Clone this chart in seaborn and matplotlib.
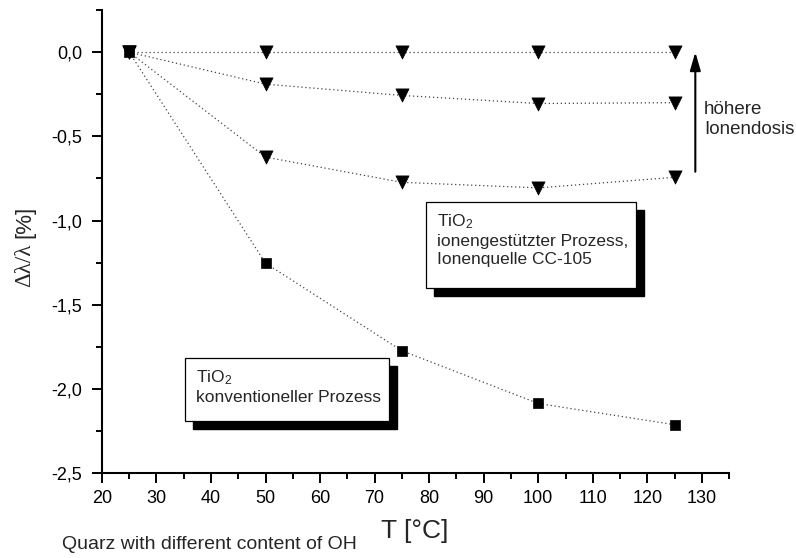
import matplotlib
matplotlib.use("Agg")
import matplotlib.pyplot as plt
import matplotlib.transforms as mtransforms
from matplotlib.patches import Rectangle
from matplotlib.ticker import MultipleLocator, FuncFormatter
import pandas as pd
import seaborn as sns

# Temperature steps [°C]
temperature = [25, 50, 75, 100, 125]

# Relative wavelength shift Δλ/λ [%]
ion_dose_high = [0.0, 0.0, 0.0, 0.0, 0.0]
ion_dose_mid = [0.0, -0.19, -0.257, -0.305, -0.30]
ion_dose_low = [0.0, -0.623, -0.773, -0.806, -0.743]
conventional = [0.0, -1.253, -1.773, -2.086, -2.212]

x_ticks = [20, 30, 40, 50, 60, 70, 80, 90, 100, 110, 120, 130]
y_ticks = [0.0, -0.5, -1.0, -1.5, -2.0, -2.5]

sns.set_theme(style="ticks")
plt.rcParams["font.family"] = ["Liberation Sans", "DejaVu Sans"]
plt.rcParams["mathtext.fontset"] = "custom"
plt.rcParams["mathtext.rm"] = "Liberation Sans"
plt.rcParams["mathtext.it"] = "Liberation Sans:italic"

frames = []
for name, vals in [("hoch", ion_dose_high), ("mittel", ion_dose_mid),
                   ("niedrig", ion_dose_low), ("konventionell", conventional)]:
    frames.append(pd.DataFrame({"T": temperature, "d": vals, "serie": name}))
df = pd.concat(frames, ignore_index=True)

fig = plt.figure(figsize=(7.96, 5.58), dpi=100)
ax = fig.add_axes([0.128, 0.152, 0.788, 0.830])

line_kw = dict(color="#444444", linestyle=(0, (1, 2.2)), linewidth=0.9)
for name in ["hoch", "mittel", "niedrig"]:
    sub = df[df["serie"] == name]
    sns.lineplot(data=sub, x="T", y="d", ax=ax, **line_kw, zorder=2)
    sns.scatterplot(data=sub, x="T", y="d", ax=ax, marker="v", s=90,
                    color="black", edgecolor="black", linewidth=0.5, zorder=3)
sub = df[df["serie"] == "konventionell"]
sns.lineplot(data=sub, x="T", y="d", ax=ax, **line_kw, zorder=2)
sns.scatterplot(data=sub, x="T", y="d", ax=ax, marker="s", s=60,
                color="black", edgecolor="black", linewidth=0.5, zorder=3)

ax.set_xlim(20, 135)
ax.set_ylim(-2.5, 0.25)
ax.set_xticks(x_ticks)
ax.set_yticks(y_ticks)
ax.xaxis.set_minor_locator(MultipleLocator(5))
ax.yaxis.set_minor_locator(MultipleLocator(0.25))
ax.yaxis.set_major_formatter(FuncFormatter(lambda v, p: f"{v:.1f}".replace(".", ",")))
ax.xaxis.set_major_formatter(FuncFormatter(lambda v, p: f"{v:.0f}"))
ax.tick_params(axis="both", which="major", direction="out", length=7, width=1.4,
               labelsize=13, color="black", labelcolor="black")
ax.tick_params(axis="x", which="major", pad=5)
ax.tick_params(axis="y", which="major", pad=7)
ax.tick_params(axis="both", which="minor", direction="out", length=4.3, width=1.4,
               color="black")
for side in ["top", "right"]:
    ax.spines[side].set_visible(False)
for side in ["left", "bottom"]:
    ax.spines[side].set_linewidth(1.5)
    ax.spines[side].set_color("black")
ax.set_xlabel("")
ax.set_ylabel("")

fig.text(0.521, 0.036, "T [°C]", fontsize=19, ha="center", va="baseline")
fig.text(0.031, 1 - 265 / 558, "Δλ/λ", fontsize=16.5, rotation=90, ha="center",
         va="center", family=["Liberation Serif", "DejaVu Serif"])
fig.text(0.031, 1 - 222 / 558, "[%]", fontsize=16, rotation=90, ha="center",
         va="center")
fig.text(0.078, 0.016, "Quarz with different content of OH", fontsize=14,
         ha="left", va="baseline")

# Arrow: increasing ion dose
ax.annotate("", xy=(128.8, 0.0), xytext=(128.8, -0.71),
            arrowprops=dict(arrowstyle="-|>,head_length=0.55,head_width=0.16",
                            color="black", lw=1.5, mutation_scale=20,
                            shrinkA=0, shrinkB=0))
ax.text(130.4, -0.40, "höhere\nIonendosis", fontsize=13.5, ha="left", va="center",
        linespacing=1.2)

shadow = mtransforms.offset_copy(ax.transData, fig=fig, x=8, y=-8, units="dots")


def label_box(x0, x1, y0, y1, text):
    ax.add_patch(Rectangle((x0, y0), x1 - x0, y1 - y0, transform=shadow,
                           facecolor="black", edgecolor="black", zorder=4,
                           clip_on=False))
    ax.add_patch(Rectangle((x0, y0), x1 - x0, y1 - y0, facecolor="white",
                           edgecolor="black", linewidth=0.9, zorder=5,
                           clip_on=False))
    ax.text(x0 + 2.0, y1 - 0.06, text, fontsize=12.5, ha="left", va="top",
            linespacing=1.25, zorder=6)


label_box(79.5, 118.0, -1.402, -0.888,
          "TiO$_2$\nionengestützter Prozess,\nIonenquelle CC-105")
label_box(35.3, 72.7, -2.189, -1.815, "TiO$_2$\nkonventioneller Prozess")

fig.savefig("out.png", dpi=100)
